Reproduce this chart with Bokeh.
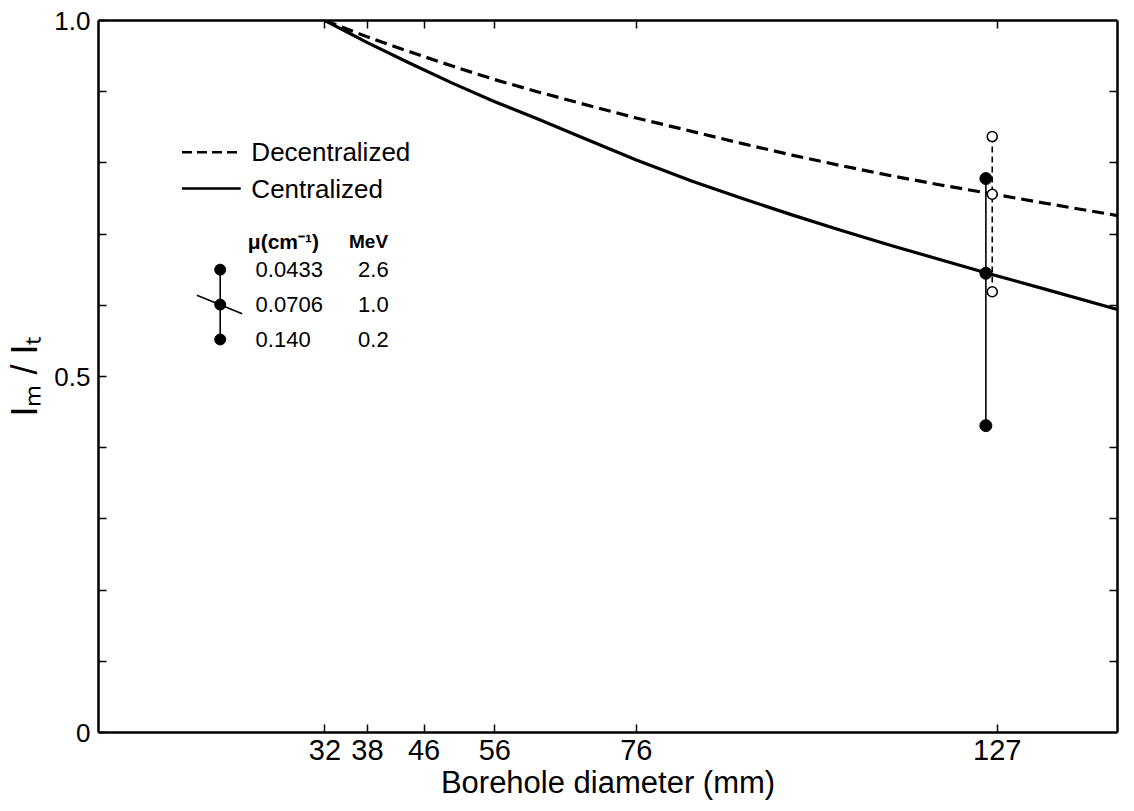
from bokeh.plotting import figure
from bokeh.models import Range1d, LinearAxis, FixedTicker
from bokeh.core.properties import value
from bokeh.embed import file_html
from bokeh.resources import INLINE

# ---------------- data ----------------
diameter_ticks = [32, 38, 46, 56, 76, 127]
curve_diam = [32, 38, 44, 50, 56, 62, 68, 76, 84, 91, 98, 105, 112, 119, 126, 134, 144]
centralized = [1.0, 0.969, 0.940, 0.912, 0.886, 0.862, 0.837, 0.804, 0.774, 0.750, 0.727,
               0.705, 0.684, 0.664, 0.644, 0.622, 0.594]
decentralized = [1.0, 0.977, 0.956, 0.936, 0.917, 0.900, 0.884, 0.863, 0.844, 0.827, 0.811,
                 0.796, 0.782, 0.769, 0.757, 0.743, 0.726]

measured_diam = 127
centralized_points = [0.778, 0.645, 0.431]     # mu = 0.0433, 0.0706, 0.140
decentralized_points = [0.837, 0.756, 0.619]

mu_values = ["0.0433", "0.0706", "0.140"]
mev_values = ["2.6", "1.0", "0.2"]

y_major = [0, 0.5, 1.0]
y_major_labels = ["0", "0.5", "1.0"]
y_minor = [0.1, 0.2, 0.3, 0.4, 0.6, 0.7, 0.8, 0.9]

series_names = ["Decentralized", "Centralized"]

# ---------------- styling / layout ----------------
FONT = "Liberation Sans"
X_MAX = 144
filled_offset = -1.6   # display offset of the filled (centralized) points
open_offset = -0.7     # display offset of the open (decentralized) points

p = figure(width=1134, height=811, output_backend="svg", toolbar_location=None,
           x_range=Range1d(0, X_MAX), y_range=Range1d(0, 1.0),
           x_axis_location=None, y_axis_location=None,
           min_border_left=98, min_border_right=17, min_border_top=20, min_border_bottom=79)
p.outline_line_color = None
p.xgrid.visible = False
p.ygrid.visible = False
p.background_fill_color = "white"
p.border_fill_color = "white"


def style_axis(ax):
    ax.axis_line_width = 2.5
    ax.axis_line_color = "black"
    ax.major_tick_in = 8
    ax.major_tick_out = 0
    ax.minor_tick_in = 8
    ax.minor_tick_out = 0
    ax.major_tick_line_width = 1.5
    ax.minor_tick_line_width = 1.5
    ax.major_label_text_font = FONT
    ax.axis_label_text_font = FONT
    ax.axis_label_text_font_style = "normal"
    ax.major_label_text_color = "black"
    ax.axis_label_text_color = "black"


left = LinearAxis(ticker=FixedTicker(ticks=y_major, minor_ticks=y_minor),
                  axis_label="Iₘ / Iₜ")
left.major_label_overrides = {v: s for v, s in zip(y_major, y_major_labels)}
style_axis(left)
left.major_label_text_font_size = "26px"
left.major_label_standoff = 8
left.axis_label_text_font_size = "36px"
left.axis_label_standoff = 6
p.add_layout(left, "left")

right = LinearAxis(ticker=FixedTicker(ticks=[], minor_ticks=y_minor))
style_axis(right)
p.add_layout(right, "right")

bottom = LinearAxis(ticker=FixedTicker(ticks=diameter_ticks, minor_ticks=[]),
                    axis_label="Borehole diameter (mm)")
style_axis(bottom)
bottom.major_label_text_font_size = "29px"
bottom.major_label_standoff = 7
bottom.axis_label_text_font_size = "31px"
bottom.axis_label_standoff = 2
p.add_layout(bottom, "below")

top = LinearAxis(ticker=FixedTicker(ticks=[], minor_ticks=diameter_ticks))
style_axis(top)
p.add_layout(top, "above")

# ---------------- curves ----------------
p.line(curve_diam, decentralized, line_color="black", line_width=3.2, line_dash="12 6",
       line_join="round")
p.line(curve_diam, centralized, line_color="black", line_width=3.2, line_join="round")

# ---------------- measured points at 127 mm ----------------
xf = measured_diam + filled_offset
xo = measured_diam + open_offset
p.line([xo] * len(decentralized_points), decentralized_points, line_color="black",
       line_width=1.6, line_dash="6 4")
p.line([xf] * len(centralized_points), centralized_points, line_color="black", line_width=1.6)
p.scatter([xf] * len(centralized_points), centralized_points, size=12,
          fill_color="black", line_color="black")
p.scatter([xo] * len(decentralized_points), decentralized_points, size=10,
          fill_color="white", line_color="black", line_width=1.6)

# ---------------- legend / key ----------------
leg_x0, leg_x1, leg_tx = 11.8, 20.1, 21.6
leg_y = [0.815, 0.764]
p.line([leg_x0, leg_x1], [leg_y[0]] * 2, line_color="black", line_width=2.6, line_dash="10 5")
p.line([leg_x0, leg_x1], [leg_y[1]] * 2, line_color="black", line_width=2.6)
p.text(x=[leg_tx] * 2, y=leg_y, text=series_names, text_font=value(FONT),
       text_font_size="26px", text_baseline="middle", text_align="left", text_color="black")

key_x = 17.2
key_y = [0.650, 0.601, 0.552]
p.line([key_x] * 3, key_y, line_color="black", line_width=1.6)
p.line([13.9, 20.3], [0.614, 0.588], line_color="black", line_width=1.6)
p.scatter([key_x] * 3, key_y, size=11, fill_color="black", line_color="black")
p.text(x=[21.1], y=[0.689], text=["μ(cm⁻¹)"], text_font=value(FONT), text_font_size="21px",
       text_font_style="bold", text_baseline="middle", text_align="left", text_color="black")
p.text(x=[35.4], y=[0.689], text=["MeV"], text_font=value(FONT), text_font_size="19px",
       text_font_style="bold", text_baseline="middle", text_align="left", text_color="black")
p.text(x=[22.2] * 3, y=key_y, text=mu_values, text_font=value(FONT), text_font_size="22px",
       text_baseline="middle", text_align="left", text_color="black")
p.text(x=[41.0] * 3, y=key_y, text=mev_values, text_font=value(FONT), text_font_size="22px",
       text_baseline="middle", text_align="right", text_color="black")

open("out.html", "w").write(file_html(p, INLINE))
